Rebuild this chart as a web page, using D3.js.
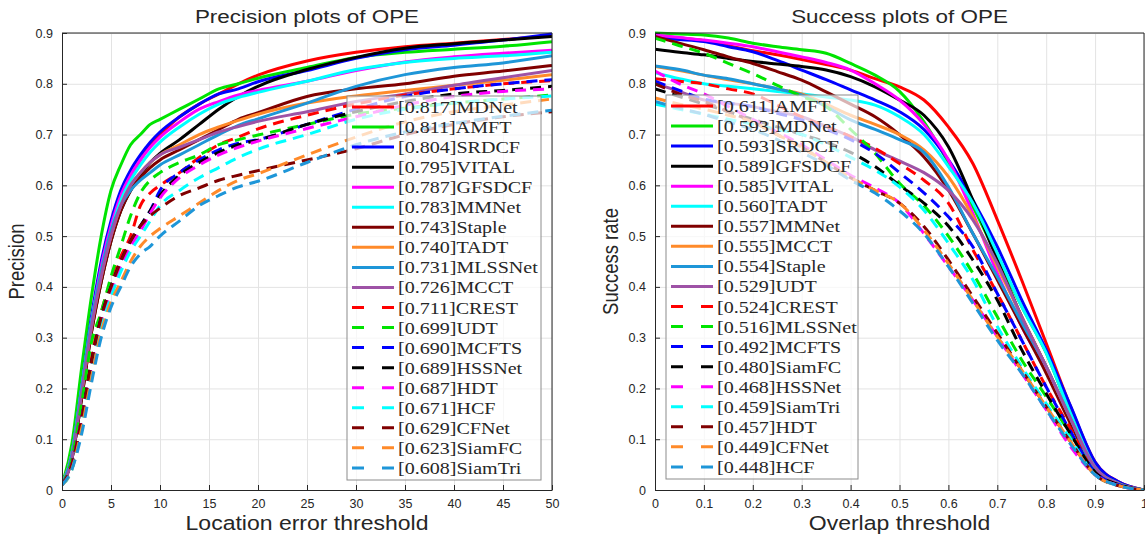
<!DOCTYPE html>
<html>
<head>
<meta charset="utf-8">
<script src="https://cdn.jsdelivr.net/npm/d3@7/dist/d3.min.js"></script>
<style>
body { margin: 0; background: #fff; }
svg text { fill: #262626; }
.sans { font-family: "Liberation Sans", Arial, sans-serif; }
.serif { font-family: "Liberation Serif", "Times New Roman", serif; }
</style>
</head>
<body>
<svg id="chart" width="1145" height="536"></svg>
<script>
// ---- precision plot data (threshold in pixels) ----
const precThresholds = [0, 1, 2, 3, 4, 5, 6, 7, 8, 9, 10, 12, 14, 16, 18, 20, 25, 30, 35, 40, 45, 50];
const precNames = ['MDNet', 'AMFT', 'SRDCF', 'VITAL', 'GFSDCF', 'MMNet', 'Staple', 'TADT', 'MLSSNet', 'MCCT',
    'CREST', 'UDT', 'MCFTS', 'HSSNet', 'HDT', 'HCF', 'CFNet', 'SiamFC', 'SiamTri'];
const precScores = [0.817, 0.811, 0.804, 0.795, 0.787, 0.783, 0.743, 0.740, 0.731, 0.726,
    0.711, 0.699, 0.690, 0.689, 0.687, 0.671, 0.629, 0.623, 0.608];
const precMDNet   = [0.01, 0.07, 0.20, 0.33, 0.44, 0.52, 0.58, 0.62, 0.65, 0.68, 0.700, 0.735, 0.760, 0.780, 0.800, 0.817, 0.845, 0.862, 0.873, 0.880, 0.887, 0.895];
const precAMFT    = [0.01, 0.09, 0.24, 0.38, 0.50, 0.59, 0.64, 0.68, 0.70, 0.72, 0.730, 0.750, 0.770, 0.790, 0.800, 0.811, 0.832, 0.852, 0.862, 0.868, 0.874, 0.883];
const precSRDCF   = [0.01, 0.07, 0.20, 0.34, 0.45, 0.53, 0.59, 0.63, 0.66, 0.685, 0.705, 0.735, 0.760, 0.780, 0.790, 0.804, 0.826, 0.850, 0.867, 0.876, 0.886, 0.898];
const precVITAL   = [0.01, 0.06, 0.18, 0.31, 0.41, 0.49, 0.55, 0.59, 0.62, 0.645, 0.663, 0.690, 0.720, 0.750, 0.775, 0.795, 0.828, 0.852, 0.870, 0.879, 0.886, 0.893];
const precGFSDCF  = [0.01, 0.07, 0.20, 0.33, 0.44, 0.52, 0.58, 0.62, 0.65, 0.675, 0.695, 0.725, 0.750, 0.765, 0.778, 0.787, 0.805, 0.826, 0.843, 0.853, 0.860, 0.866];
const precMMNet   = [0.01, 0.07, 0.20, 0.33, 0.43, 0.51, 0.57, 0.61, 0.64, 0.665, 0.685, 0.715, 0.740, 0.760, 0.773, 0.783, 0.805, 0.828, 0.842, 0.850, 0.855, 0.862];
const precStaple  = [0.01, 0.06, 0.18, 0.31, 0.41, 0.49, 0.55, 0.59, 0.615, 0.635, 0.650, 0.670, 0.690, 0.710, 0.730, 0.743, 0.775, 0.790, 0.800, 0.815, 0.825, 0.836];
const precTADT    = [0.01, 0.07, 0.19, 0.32, 0.42, 0.50, 0.56, 0.60, 0.625, 0.645, 0.660, 0.680, 0.700, 0.715, 0.728, 0.740, 0.762, 0.776, 0.787, 0.797, 0.807, 0.818];
const precMLSSNet = [0.01, 0.07, 0.20, 0.33, 0.43, 0.51, 0.56, 0.59, 0.61, 0.625, 0.640, 0.660, 0.680, 0.700, 0.718, 0.731, 0.762, 0.795, 0.818, 0.832, 0.841, 0.855];
const precMCCT    = [0.01, 0.06, 0.19, 0.32, 0.42, 0.50, 0.56, 0.60, 0.625, 0.645, 0.660, 0.675, 0.690, 0.705, 0.716, 0.726, 0.745, 0.765, 0.780, 0.797, 0.812, 0.826];
const precCREST   = [0.01, 0.05, 0.15, 0.26, 0.35, 0.41, 0.46, 0.50, 0.56, 0.585, 0.600, 0.625, 0.655, 0.680, 0.695, 0.711, 0.738, 0.760, 0.778, 0.790, 0.800, 0.806];
const precUDT     = [0.01, 0.06, 0.17, 0.29, 0.35, 0.42, 0.48, 0.54, 0.585, 0.61, 0.625, 0.645, 0.660, 0.680, 0.690, 0.699, 0.720, 0.740, 0.752, 0.762, 0.770, 0.778];
const precMCFTS   = [0.01, 0.05, 0.14, 0.25, 0.34, 0.40, 0.45, 0.49, 0.52, 0.55, 0.590, 0.625, 0.650, 0.670, 0.683, 0.690, 0.720, 0.750, 0.775, 0.790, 0.800, 0.808];
const precHSSNet  = [0.01, 0.05, 0.14, 0.25, 0.34, 0.40, 0.45, 0.49, 0.52, 0.55, 0.580, 0.620, 0.645, 0.665, 0.680, 0.689, 0.720, 0.745, 0.765, 0.780, 0.787, 0.795];
const precHDT     = [0.01, 0.05, 0.14, 0.24, 0.33, 0.39, 0.44, 0.48, 0.51, 0.545, 0.575, 0.615, 0.640, 0.660, 0.675, 0.687, 0.712, 0.735, 0.758, 0.775, 0.785, 0.790];
const precHCF     = [0.01, 0.04, 0.13, 0.23, 0.32, 0.38, 0.43, 0.47, 0.50, 0.53, 0.560, 0.590, 0.615, 0.635, 0.655, 0.671, 0.700, 0.730, 0.750, 0.762, 0.770, 0.776];
const precCFNet   = [0.01, 0.05, 0.14, 0.25, 0.34, 0.40, 0.45, 0.49, 0.52, 0.54, 0.555, 0.580, 0.595, 0.610, 0.620, 0.629, 0.650, 0.672, 0.700, 0.720, 0.735, 0.745];
const precSiamFC  = [0.01, 0.04, 0.12, 0.22, 0.31, 0.37, 0.41, 0.45, 0.48, 0.50, 0.515, 0.540, 0.565, 0.590, 0.610, 0.623, 0.660, 0.695, 0.725, 0.745, 0.758, 0.770];
const precSiamTri = [0.01, 0.04, 0.11, 0.21, 0.30, 0.36, 0.40, 0.44, 0.465, 0.48, 0.500, 0.530, 0.560, 0.580, 0.597, 0.608, 0.645, 0.680, 0.705, 0.722, 0.736, 0.748];
const precValues = [precMDNet, precAMFT, precSRDCF, precVITAL, precGFSDCF, precMMNet, precStaple, precTADT, precMLSSNet, precMCCT,
    precCREST, precUDT, precMCFTS, precHSSNet, precHDT, precHCF, precCFNet, precSiamFC, precSiamTri];

// ---- success plot data (overlap threshold) ----
const succThresholds = [0, 0.05, 0.1, 0.15, 0.2, 0.25, 0.3, 0.35, 0.4, 0.45, 0.5, 0.55, 0.6, 0.65, 0.7, 0.75, 0.8, 0.85, 0.9, 0.95, 1];
const succNames = ['AMFT', 'MDNet', 'SRDCF', 'GFSDCF', 'VITAL', 'TADT', 'MMNet', 'MCCT', 'Staple', 'UDT',
    'CREST', 'MLSSNet', 'MCFTS', 'SiamFC', 'HSSNet', 'SiamTri', 'HDT', 'CFNet', 'HCF'];
const succScores = [0.611, 0.593, 0.593, 0.589, 0.585, 0.560, 0.557, 0.555, 0.554, 0.529,
    0.524, 0.516, 0.492, 0.480, 0.468, 0.459, 0.457, 0.449, 0.448];
const succAMFT    = [0.895, 0.890, 0.885, 0.875, 0.865, 0.857, 0.848, 0.838, 0.827, 0.810, 0.794, 0.768, 0.715, 0.643, 0.532, 0.413, 0.289, 0.164, 0.055, 0.015, 0];
const succMDNet   = [0.900, 0.898, 0.896, 0.890, 0.880, 0.873, 0.867, 0.860, 0.840, 0.817, 0.785, 0.725, 0.645, 0.558, 0.459, 0.361, 0.270, 0.150, 0.045, 0.012, 0];
const succSRDCF   = [0.890, 0.887, 0.883, 0.873, 0.863, 0.846, 0.827, 0.808, 0.788, 0.768, 0.745, 0.710, 0.650, 0.571, 0.479, 0.374, 0.276, 0.165, 0.055, 0.015, 0];
const succGFSDCF  = [0.868, 0.862, 0.857, 0.850, 0.844, 0.839, 0.834, 0.827, 0.814, 0.794, 0.768, 0.738, 0.676, 0.571, 0.453, 0.341, 0.243, 0.140, 0.045, 0.012, 0];
const succVITAL   = [0.896, 0.891, 0.886, 0.880, 0.873, 0.863, 0.853, 0.842, 0.827, 0.800, 0.768, 0.720, 0.650, 0.545, 0.427, 0.322, 0.236, 0.140, 0.040, 0.010, 0];
const succTADT    = [0.822, 0.810, 0.800, 0.795, 0.790, 0.785, 0.780, 0.774, 0.768, 0.758, 0.735, 0.700, 0.637, 0.565, 0.466, 0.361, 0.270, 0.150, 0.045, 0.012, 0];
const succMMNet   = [0.893, 0.880, 0.867, 0.853, 0.840, 0.824, 0.807, 0.784, 0.760, 0.735, 0.700, 0.656, 0.591, 0.505, 0.414, 0.322, 0.230, 0.130, 0.040, 0.010, 0];
const succMCCT    = [0.834, 0.826, 0.817, 0.808, 0.800, 0.790, 0.780, 0.760, 0.738, 0.720, 0.700, 0.670, 0.617, 0.538, 0.440, 0.341, 0.243, 0.140, 0.040, 0.010, 0];
const succStaple  = [0.835, 0.828, 0.817, 0.810, 0.800, 0.790, 0.778, 0.755, 0.729, 0.710, 0.690, 0.665, 0.597, 0.505, 0.420, 0.330, 0.243, 0.140, 0.040, 0.010, 0];
const succUDT     = [0.800, 0.785, 0.768, 0.762, 0.755, 0.745, 0.735, 0.716, 0.696, 0.670, 0.648, 0.625, 0.590, 0.532, 0.446, 0.341, 0.243, 0.140, 0.045, 0.012, 0];
const succCREST   = [0.810, 0.805, 0.800, 0.790, 0.780, 0.758, 0.735, 0.716, 0.696, 0.673, 0.643, 0.610, 0.565, 0.473, 0.387, 0.295, 0.203, 0.120, 0.035, 0.010, 0];
const succMLSSNet = [0.890, 0.875, 0.860, 0.840, 0.820, 0.797, 0.775, 0.755, 0.710, 0.663, 0.604, 0.560, 0.500, 0.427, 0.341, 0.256, 0.184, 0.110, 0.035, 0.010, 0];
const succMCFTS   = [0.805, 0.787, 0.770, 0.762, 0.755, 0.742, 0.729, 0.710, 0.690, 0.663, 0.625, 0.585, 0.538, 0.479, 0.387, 0.295, 0.203, 0.115, 0.035, 0.010, 0];
const succSiamFC  = [0.790, 0.775, 0.760, 0.745, 0.730, 0.715, 0.700, 0.685, 0.665, 0.637, 0.600, 0.565, 0.520, 0.453, 0.374, 0.276, 0.190, 0.110, 0.035, 0.010, 0];
const succHSSNet  = [0.825, 0.800, 0.780, 0.755, 0.730, 0.705, 0.680, 0.650, 0.620, 0.595, 0.565, 0.505, 0.440, 0.374, 0.302, 0.230, 0.158, 0.085, 0.030, 0.008, 0];
const succSiamTri = [0.760, 0.750, 0.740, 0.730, 0.720, 0.710, 0.700, 0.680, 0.655, 0.630, 0.597, 0.551, 0.486, 0.414, 0.322, 0.243, 0.170, 0.100, 0.030, 0.008, 0];
const succHDT     = [0.800, 0.780, 0.765, 0.745, 0.725, 0.700, 0.675, 0.645, 0.615, 0.590, 0.565, 0.519, 0.453, 0.381, 0.309, 0.236, 0.164, 0.095, 0.030, 0.008, 0];
const succCFNet   = [0.772, 0.760, 0.750, 0.738, 0.725, 0.700, 0.675, 0.645, 0.615, 0.590, 0.565, 0.512, 0.446, 0.374, 0.302, 0.236, 0.164, 0.095, 0.030, 0.008, 0];
const succHCF     = [0.765, 0.752, 0.740, 0.725, 0.710, 0.690, 0.665, 0.640, 0.610, 0.585, 0.550, 0.505, 0.440, 0.368, 0.295, 0.230, 0.158, 0.090, 0.030, 0.008, 0];
const succValues = [succAMFT, succMDNet, succSRDCF, succGFSDCF, succVITAL, succTADT, succMMNet, succMCCT, succStaple, succUDT,
    succCREST, succMLSSNet, succMCFTS, succSiamFC, succHSSNet, succSiamTri, succHDT, succCFNet, succHCF];

const yTicks = [0, 0.1, 0.2, 0.3, 0.4, 0.5, 0.6, 0.7, 0.8, 0.9];
const precXTicks = [0, 5, 10, 15, 20, 25, 30, 35, 40, 45, 50];
const succXTicks = [0, 0.1, 0.2, 0.3, 0.4, 0.5, 0.6, 0.7, 0.8, 0.9, 1];

// colour by rank: first 10 solid, the 9 dashed ones reuse the start of the list
const palette = ['#ff0000', '#00e400', '#0000ff', '#000000', '#ff00ff', '#00ffff', '#800000', '#ff8a2a', '#1e96d8', '#9e52a6'];
const colorOf = k => palette[k >= 10 ? k - 10 : k];

// the source figure is stretched sideways a little
const SX = 1.18;

const svg = d3.select('#chart');

function drawPanel(p) {
    const x = d3.scaleLinear().domain(p.xDomain).range([p.left, p.right]);
    const y = d3.scaleLinear().domain([0, 0.9]).range([p.bottom, p.top]);
    const g = svg.append('g');

    // grid
    g.append('g')
        .attr('transform', 'translate(0,' + p.bottom + ')')
        .call(d3.axisBottom(x).tickValues(p.xTicks).tickSize(-(p.bottom - p.top)).tickFormat(''))
        .call(s => s.select('.domain').remove())
        .selectAll('line').attr('stroke', '#e3e3e3');
    g.append('g')
        .attr('transform', 'translate(' + p.left + ',0)')
        .call(d3.axisLeft(y).tickValues(yTicks).tickSize(-(p.right - p.left)).tickFormat(''))
        .call(s => s.select('.domain').remove())
        .selectAll('line').attr('stroke', '#e3e3e3');

    // curves
    const clipId = 'clip' + p.id;
    g.append('clipPath').attr('id', clipId)
        .append('rect').attr('x', p.left).attr('y', p.top - 2)
        .attr('width', p.right - p.left).attr('height', p.bottom - p.top + 2);
    const line = d3.line()
        .x((d, i) => x(p.thresholds[i]))
        .y(d => y(d))
        .curve(d3.curveMonotoneX);
    const curves = g.append('g').attr('clip-path', 'url(#' + clipId + ')');
    p.values.forEach(function (vals, k) {
        curves.append('path')
            .datum(vals)
            .attr('d', line)
            .attr('fill', 'none')
            .attr('stroke', colorOf(k))
            .attr('stroke-width', 3)
            .attr('stroke-dasharray', k >= 10 ? '11,7' : null);
    });

    // axes (ticks inward, box)
    const xa = g.append('g')
        .attr('transform', 'translate(0,' + p.bottom + ')')
        .call(d3.axisBottom(x).tickValues(p.xTicks).tickSizeInner(-5).tickSizeOuter(0).tickPadding(9)
            .tickFormat(d3.format('~g')));
    const ya = g.append('g')
        .attr('transform', 'translate(' + p.left + ',0)')
        .call(d3.axisLeft(y).tickValues(yTicks).tickSizeInner(-5).tickSizeOuter(0).tickPadding(9)
            .tickFormat(d3.format('~g')));
    [xa, ya].forEach(a => {
        a.selectAll('line, path').attr('stroke', '#262626');
        a.selectAll('text').attr('class', 'sans').attr('font-size', 12.5).attr('fill', '#262626');
    });
    g.append('line').attr('x1', p.left).attr('x2', p.right).attr('y1', p.top).attr('y2', p.top).attr('stroke', '#262626');
    g.append('line').attr('x1', p.right).attr('x2', p.right).attr('y1', p.top).attr('y2', p.bottom).attr('stroke', '#262626');

    // titles
    const cx = (p.left + p.right) / 2;
    g.append('text').attr('class', 'sans')
        .attr('transform', 'translate(' + cx + ',23) scale(' + SX + ',1)')
        .attr('text-anchor', 'middle').attr('font-size', 19).text(p.title);
    g.append('text').attr('class', 'sans')
        .attr('transform', 'translate(' + cx + ',530) scale(' + SX + ',1)')
        .attr('text-anchor', 'middle').attr('font-size', 19.5).text(p.xLabel);
    g.append('text').attr('class', 'sans')
        .attr('transform', 'translate(' + p.yLabelX + ',' + (p.top + p.bottom) / 2 + ') scale(' + SX + ',1) rotate(-90)')
        .attr('text-anchor', 'middle').attr('font-size', 18.5).text(p.yLabel);

    // legend
    const lg = g.append('g');
    lg.append('rect')
        .attr('x', p.legend.x).attr('y', p.legend.y)
        .attr('width', p.legend.w).attr('height', p.legend.h)
        .attr('fill', '#fff').attr('fill-opacity', 0.7)
        .attr('stroke', '#8c8c8c').attr('stroke-width', 1);
    p.names.forEach(function (name, k) {
        const yy = p.legend.y + 11 + k * 20.05;
        lg.append('line')
            .attr('x1', p.legend.x + 5).attr('x2', p.legend.x + 47)
            .attr('y1', yy).attr('y2', yy)
            .attr('stroke', colorOf(k))
            .attr('stroke-width', 3)
            .attr('stroke-dasharray', k >= 10 ? '12,18' : null);
        lg.append('text').attr('class', 'serif')
            .attr('transform', 'translate(' + (p.legend.x + 51) + ',' + (yy + 6) + ') scale(' + SX + ',1)')
            .attr('font-size', 17)
            .attr('fill', '#222')
            .text('[' + p.scores[k].toFixed(3) + ']' + name);
    });
}

drawPanel({
    id: 'p', title: 'Precision plots of OPE', xLabel: 'Location error threshold', yLabel: 'Precision',
    xDomain: [0, 50], xTicks: precXTicks, thresholds: precThresholds,
    left: 62, right: 552, top: 33, bottom: 490, yLabelX: 24,
    names: precNames, scores: precScores, values: precValues,
    legend: {x: 347, y: 96, w: 194, h: 384}
});

drawPanel({
    id: 's', title: 'Success plots of OPE', xLabel: 'Overlap threshold', yLabel: 'Success rate',
    xDomain: [0, 1], xTicks: succXTicks, thresholds: succThresholds,
    left: 655, right: 1144, top: 33, bottom: 490, yLabelX: 618,
    names: succNames, scores: succScores, values: succValues,
    legend: {x: 666, y: 95, w: 192, h: 384}
});
</script>
</body>
</html>
